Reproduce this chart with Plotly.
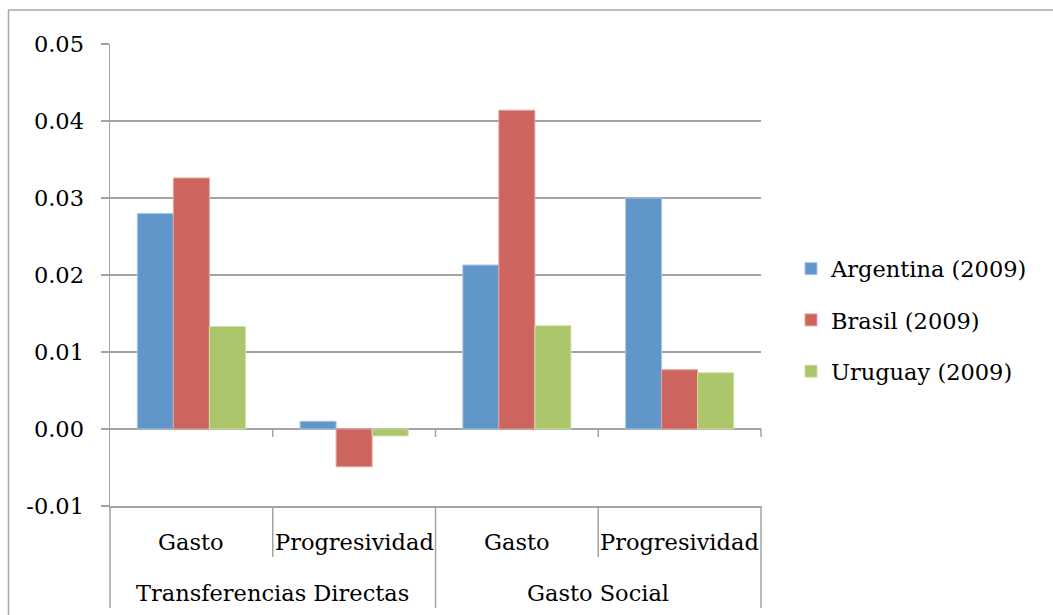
import plotly.graph_objects as go

# Categories: two-level axis (group / measure)
groups = ["Transferencias Directas", "Transferencias Directas", "Gasto Social", "Gasto Social"]
measures = ["Gasto", "Progresividad", "Gasto", "Progresividad"]

# Series values
argentina = [0.0280, 0.0010, 0.0213, 0.0300]
brasil = [0.0326, -0.0049, 0.0414, 0.0077]
uruguay = [0.0133, -0.0009, 0.0134, 0.0073]

series_names = ["Argentina (2009)", "Brasil (2009)", "Uruguay (2009)"]
series_colors = ["#6096C9", "#CD655E", "#ABC56B"]
series_edges = ["#A9C6E4", "#E4A5A0", "#CFE0A6"]

y_ticks = [-0.01, 0.0, 0.01, 0.02, 0.03, 0.04, 0.05]
y_tick_labels = ["-0.01", "0.00", "0.01", "0.02", "0.03", "0.04", "0.05"]

FONT = "DejaVu Serif"
FSIZE = 22.5
GRID = "#A3A3A3"
W, H = 1053, 615
L, R, T, B = 110, 292, 44, 109
plot_w, plot_h = W - L - R, H - T - B

def px_x(px):
    return (px - L) / plot_w

def px_y(py):
    return (H - B - py) / plot_h

x_pos = list(range(len(measures)))

fig = go.Figure()
for name, vals, col, edge in zip(series_names, [argentina, brasil, uruguay],
                                 series_colors, series_edges):
    fig.add_trace(go.Bar(
        x=x_pos, y=vals, name=name, legendgroup=name,
        marker=dict(color=col, line=dict(color=edge, width=1)),
    ))

shapes = []
n = len(measures)
# short ticks hanging from the zero line at category boundaries
for b in range(1, n + 1):
    shapes.append(dict(type="line", xref="paper", yref="y",
                       x0=b / n, x1=b / n, y0=0, y1=-0.00104,
                       line=dict(color=GRID, width=1.5)))
# label-area dividers: between measures (short) and between groups (full)
for b in range(0, n + 1):
    is_group_edge = b == 0 or b == n or groups[b - 1] != groups[b]
    bottom = px_y(608) if is_group_edge else px_y(557)
    shapes.append(dict(type="line", xref="paper", yref="paper",
                       x0=b / n, x1=b / n, y0=0, y1=bottom,
                       line=dict(color=GRID, width=1.5)))
# chart frame (left and top edges)
shapes.append(dict(type="line", xref="paper", yref="paper",
                   x0=px_x(8.5), x1=px_x(8.5), y0=px_y(10), y1=px_y(H + 5),
                   line=dict(color="#A8A8A8", width=1.5)))
shapes.append(dict(type="line", xref="paper", yref="paper",
                   x0=px_x(8.5), x1=px_x(W + 5), y0=px_y(10), y1=px_y(10),
                   line=dict(color="#A8A8A8", width=1.5)))

annotations = []
for i, m in enumerate(measures):
    annotations.append(dict(x=i, y=px_y(542), xref="x", yref="paper", text=m,
                            showarrow=False, yanchor="middle",
                            font=dict(family=FONT, size=FSIZE, color="black")))
seen = []
for g in groups:
    if g not in seen:
        seen.append(g)
for g in seen:
    idx = [i for i, gg in enumerate(groups) if gg == g]
    annotations.append(dict(x=sum(idx) / len(idx), y=px_y(593), xref="x", yref="paper",
                            text=g, showarrow=False, yanchor="middle",
                            font=dict(family=FONT, size=FSIZE, color="black")))

fig.update_layout(
    width=W, height=H, autosize=False,
    margin=dict(l=L, r=R, t=T, b=B, pad=0),
    paper_bgcolor="white", plot_bgcolor="white",
    barmode="group", bargap=0.336, bargroupgap=0,
    font=dict(family=FONT, size=FSIZE, color="black"),
    showlegend=True,
    legend=dict(x=px_x(791), y=px_y(320), xanchor="left", yanchor="middle",
                font=dict(family=FONT, size=FSIZE, color="black"),
                traceorder="grouped", tracegroupgap=19,
                bgcolor="rgba(0,0,0,0)", borderwidth=0),
    xaxis=dict(range=[-0.5, n - 0.5], showticklabels=False, ticks="",
               showgrid=False, zeroline=False, showline=True,
               linecolor=GRID, linewidth=1.5, fixedrange=True),
    yaxis=dict(range=[y_ticks[0], y_ticks[-1]], tickvals=y_ticks, ticktext=y_tick_labels,
               ticks="outside", ticklen=8, tickwidth=1.5, tickcolor=GRID,
               ticklabelstandoff=12,
               showgrid=True, gridcolor=GRID, gridwidth=1.5,
               zeroline=True, zerolinecolor=GRID, zerolinewidth=1.5,
               showline=True, linecolor=GRID, linewidth=1.5,
               tickfont=dict(family=FONT, size=FSIZE, color="black"), fixedrange=True),
    shapes=shapes, annotations=annotations,
    hovermode=False,
)

fig.write_html("out.html", config=dict(displayModeBar=False, staticPlot=True))
